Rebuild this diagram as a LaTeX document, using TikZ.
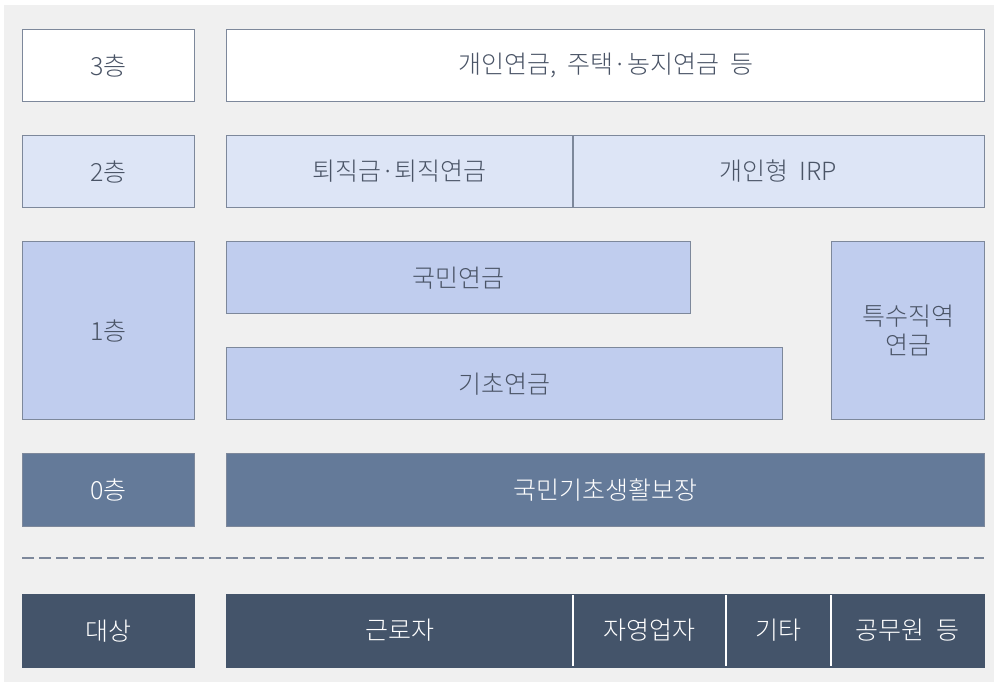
\documentclass[tikz,border=0pt]{standalone}
\usepackage{fontspec}
\setmainfont{Noto Sans CJK KR}[UprightFont=* Light]
\definecolor{bggray}{HTML}{F0F0F0}
\definecolor{edge}{HTML}{7D889B}
\definecolor{txt}{HTML}{4A5466}
\definecolor{fillA}{HTML}{FFFFFF}
\definecolor{fillB}{HTML}{DDE5F6}
\definecolor{fillC}{HTML}{C0CDEE}
\definecolor{fillD}{HTML}{647A99}
\definecolor{fillE}{HTML}{44546A}
\newcommand{\wsp}{\hspace{0.45em}}
\begin{document}
\begin{tikzpicture}[x=1pt,y=-1pt,
  lay/.style={draw=edge,line width=1.3pt,inner sep=0pt,anchor=north west,font=\fontsize{25}{29}\selectfont,text=txt,align=center},
  darklay/.style={lay,text=white},
  lbl/.style={inner sep=0pt,font=\fontsize{25}{29}\selectfont,text=txt,align=center},
  wlbl/.style={lbl,text=white},
  sepw/.style={draw=white,line width=2pt},
  sepg/.style={draw=edge,line width=1.3pt}]
\useasboundingbox (0,0) rectangle (998,685);
\fill[bggray] (4,5) rectangle (994,682);
% layer 3
\node[lay,fill=fillA,minimum width=172,minimum height=72] (l3) at (22,29) {3층};
\node[lay,fill=fillA,minimum width=758,minimum height=72] (p3) at (226,29) {개인연금,\wsp 주택·농지연금\wsp 등};
% layer 2
\node[lay,fill=fillB,minimum width=172,minimum height=72] (l2) at (22,135) {2층};
\node[lay,fill=fillB,minimum width=758,minimum height=72] (p2) at (226,135) {};
\coordinate (s2t) at (573,135);
\coordinate (s2b) at (573,207);
\draw[sepg] (s2t) -- (s2b);
\node[lbl] (t2a) at (399.5,171) {퇴직금·퇴직연금};
\node[lbl] (t2b) at (778.5,171) {개인형\wsp IRP};
% layer 1
\node[lay,fill=fillC,minimum width=172,minimum height=178] (l1) at (22,241) {1층};
\node[lay,fill=fillC,minimum width=464,minimum height=72] (nps) at (226,241) {국민연금};
\node[lay,fill=fillC,minimum width=556,minimum height=72] (bp) at (226,347) {기초연금};
\node[lay,fill=fillC,minimum width=153,minimum height=178] (sp) at (831,241) {특수직역\\연금};
% layer 0
\node[darklay,fill=fillD,minimum width=172,minimum height=73] (l0) at (22,453) {0층};
\node[darklay,fill=fillD,minimum width=758,minimum height=73] (p0) at (226,453) {국민기초생활보장};
% dashed divider
\coordinate (d1) at (22,558);
\coordinate (d2) at (984,558);
\draw[edge,line width=1.5pt,dash pattern=on 12pt off 5pt] (d1) -- (d2);
% targets
\node[darklay,draw=fillE,fill=fillE,minimum width=172,minimum height=73] (tg) at (22,594) {대상};
\node[darklay,draw=fillE,fill=fillE,minimum width=758,minimum height=73] (pt) at (226,594) {};
\coordinate (b1t) at (573,595);
\coordinate (b1b) at (573,666);
\coordinate (b2t) at (726,595);
\coordinate (b2b) at (726,666);
\coordinate (b3t) at (831,595);
\coordinate (b3b) at (831,666);
\draw[sepw] (b1t) -- (b1b);
\draw[sepw] (b2t) -- (b2b);
\draw[sepw] (b3t) -- (b3b);
\node[wlbl] (w1) at (399.5,630.5) {근로자};
\node[wlbl] (w2) at (649.5,630.5) {자영업자};
\node[wlbl] (w3) at (778.5,630.5) {기타};
\node[wlbl] (w4) at (907.5,630.5) {공무원\wsp 등};
\end{tikzpicture}
\end{document}
